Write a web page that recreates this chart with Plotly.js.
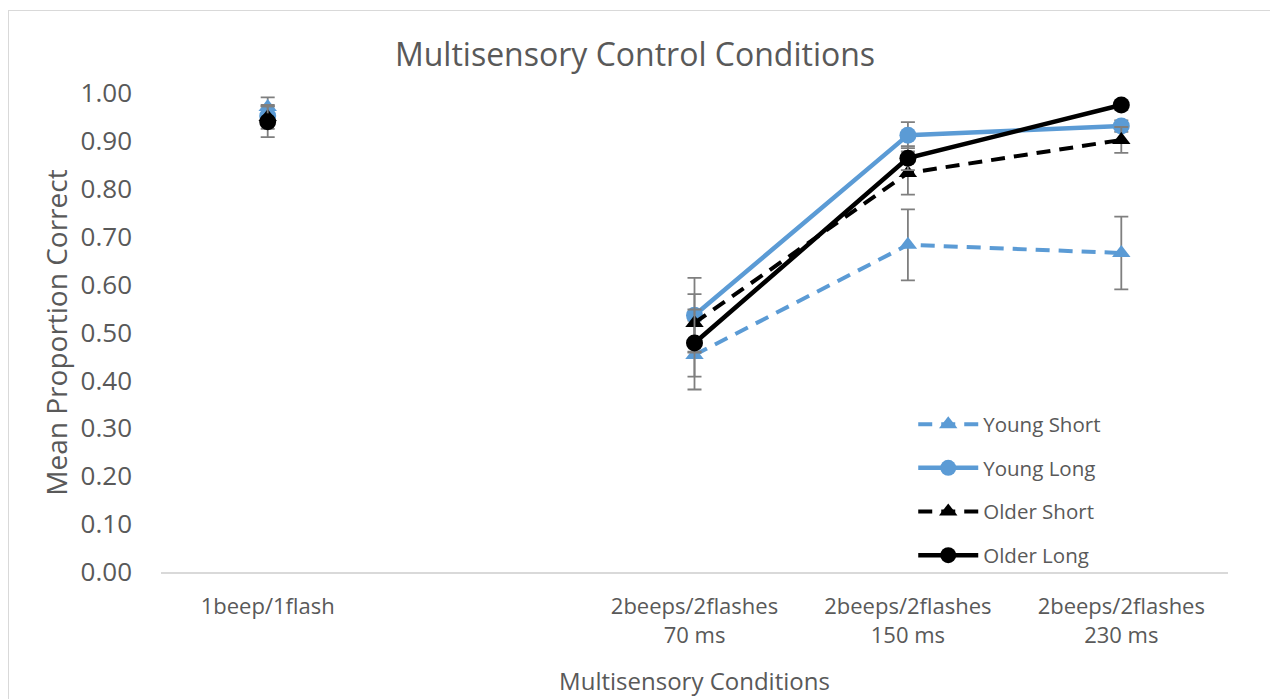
<!DOCTYPE html>
<html>
<head>
<meta charset="utf-8">
<script src="https://cdn.plot.ly/plotly-3.0.1.min.js"></script>
<style>
  html, body { margin: 0; padding: 0; background: #fff; }
  #wrap { position: relative; width: 1270px; height: 699px; overflow: hidden; }
  #chart { width: 1270px; height: 699px; }
  #frame { position: absolute; left: 8px; top: 10px; width: 1300px; height: 720px;
           border-left: 1.5px solid #d9d9d9; border-top: 1.5px solid #d9d9d9; pointer-events: none; }
</style>
</head>
<body>
<div id="wrap"><div id="chart"></div><div id="frame"></div></div>
<script>
// Categories (second slot is an empty category in the original chart)
const categories = ["1beep/1flash", "", "2beeps/2flashes<br>70 ms", "2beeps/2flashes<br>150 ms", "2beeps/2flashes<br>230 ms"];

// Series values (null = no data)
const youngShort    = [0.971, null, 0.453, 0.683, 0.666];
const youngShortErr = [0.020, null, 0.072, 0.074, 0.076];
const youngLong     = [0.952, null, 0.536, 0.912, 0.931];
const youngLongErr  = [0.020, null, 0.078, 0.027, 0.012];
const olderShort    = [0.950, null, 0.520, 0.833, 0.902];
const olderShortErr = [0.025, null, 0.060, 0.045, 0.027];
const olderLong     = [0.940, null, 0.478, 0.864, 0.975];
const olderLongErr  = [0.032, null, 0.070, 0.025, 0.010];

const seriesNames = ["Young Short", "Young Long", "Older Short", "Older Long"];

const yTickVals = [0, 0.1, 0.2, 0.3, 0.4, 0.5, 0.6, 0.7, 0.8, 0.9, 1.0];

const xIdx = categories.map((c, i) => i);
const tickIdx = xIdx.filter(i => categories[i] !== "");
const tickTxt = tickIdx.map(i => categories[i]);

const BLUE = "#5b9bd5", BLACK = "#000000", ERR = "#7f7f7f";
const FONT = "Open Sans, Noto Sans, sans-serif";
const GRAY = "#595959";

function mk(name, y, err, color, dashed, symbol, group) {
  return {
    type: "scatter", mode: "lines+markers", name: name, x: xIdx, y: y,
    connectgaps: false, legendgroup: group, cliponaxis: false,
    line: { color: color, width: dashed ? 4 : 4.5, dash: dashed ? "14px,9px" : "solid" },
    marker: { color: color, symbol: symbol, size: symbol === "circle" ? 17 : 16, line: { width: 0 } },
    error_y: { type: "data", array: err, visible: true, color: ERR, thickness: 1.8, width: 7 }
  };
}

const data = [
  mk(seriesNames[0], youngShort, youngShortErr, BLUE, true, "triangle-up", "g1"),
  mk(seriesNames[1], youngLong, youngLongErr, BLUE, false, "circle", "g2"),
  mk(seriesNames[2], olderShort, olderShortErr, BLACK, true, "triangle-up", "g3"),
  mk(seriesNames[3], olderLong, olderLongErr, BLACK, false, "circle", "g4")
];

const layout = {
  width: 1270, height: 699,
  margin: { l: 161, r: 42, t: 93, b: 127 },
  paper_bgcolor: "#ffffff", plot_bgcolor: "#ffffff",
  font: { family: FONT, color: GRAY },
  title: { text: "Multisensory Control Conditions", font: { size: 32, color: GRAY, family: FONT },
           x: 0.5, xanchor: "center", y: 0.921, yanchor: "middle" },
  xaxis: {
    range: [-0.5, categories.length - 0.5], tickvals: tickIdx, ticktext: tickTxt,
    showgrid: false, zeroline: false, showline: true, linecolor: "#d9d9d9", linewidth: 1.5,
    ticks: "", ticklabelstandoff: 14, tickfont: { size: 22, color: GRAY, family: FONT },
    title: { text: "Multisensory Conditions", font: { size: 24, color: GRAY, family: FONT }, standoff: 25 }
  },
  yaxis: {
    range: [0, 1.0], tickvals: yTickVals, tickformat: ".2f",
    showgrid: false, zeroline: false, showline: false, ticks: "", ticklabelstandoff: 28,
    tickfont: { size: 26, color: GRAY, family: FONT },
    title: { text: "Mean Proportion Correct", font: { size: 28, color: GRAY, family: FONT }, standoff: 4 }
  },
  showlegend: true,
  legend: {
    x: 0.705, y: 0.35, xanchor: "left", yanchor: "top",
    bgcolor: "rgba(0,0,0,0)", font: { size: 20.5, color: GRAY, family: FONT },
    traceorder: "grouped", tracegroupgap: 14, itemwidth: 60
  }
};

Plotly.newPlot("chart", data, layout, { displayModeBar: false, staticPlot: true });
</script>
</body>
</html>
